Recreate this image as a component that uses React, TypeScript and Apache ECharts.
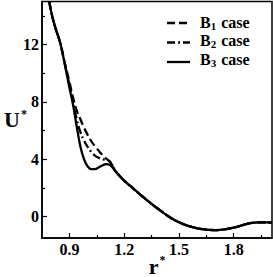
import React, { useEffect, useRef } from "react";
import * as echarts from "echarts";

const seriesNames = ["B1 case", "B2 case", "B3 case"];
const subs = ["1", "2", "3"];

const rB3 = [0.79, 0.8, 0.82, 0.85, 0.875, 0.9, 0.92, 0.94, 0.96, 0.98, 1.0, 1.02, 1.04, 1.06, 1.08, 1.1, 1.12, 1.15, 1.2, 1.25, 1.3, 1.35, 1.4, 1.45, 1.5, 1.55, 1.6, 1.65, 1.7, 1.75, 1.8, 1.85, 1.9, 1.95, 2.0, 2.01];
const uB3 = [15.0, 14.3, 13.3, 12.1, 10.6, 9.0, 7.8, 6.3, 4.9, 4.0, 3.5, 3.3, 3.3, 3.42, 3.56, 3.66, 3.62, 3.2, 2.5, 1.95, 1.4, 0.88, 0.4, -0.05, -0.4, -0.65, -0.82, -0.92, -0.95, -0.9, -0.78, -0.6, -0.45, -0.4, -0.42, -0.42];

const rB1 = [0.79, 0.8, 0.82, 0.85, 0.875, 0.9, 0.92, 0.94, 0.96, 0.98, 1.0, 1.02, 1.04, 1.06, 1.08, 1.1, 1.12, 1.14, 1.15, 1.2, 1.25, 1.3, 1.35, 1.4, 1.45, 1.5, 1.55, 1.6, 1.65, 1.7, 1.75, 1.8, 1.85, 1.9, 1.95, 2.0, 2.01];
const uB1 = [15.0, 14.3, 13.3, 12.1, 10.7, 9.4, 8.3, 7.4, 6.8, 6.2, 5.7, 5.25, 4.9, 4.6, 4.3, 4.05, 3.85, 3.45, 3.2, 2.5, 1.95, 1.4, 0.88, 0.4, -0.05, -0.4, -0.65, -0.82, -0.92, -0.95, -0.9, -0.78, -0.6, -0.45, -0.4, -0.42, -0.42];

const rB2 = rB1;
const uB2 = [15.0, 14.3, 13.3, 12.1, 10.65, 9.2, 8.0, 6.8, 5.9, 5.3, 4.85, 4.5, 4.25, 4.1, 4.0, 3.95, 3.85, 3.45, 3.2, 2.5, 1.95, 1.4, 0.88, 0.4, -0.05, -0.4, -0.65, -0.82, -0.92, -0.95, -0.9, -0.78, -0.6, -0.45, -0.4, -0.42, -0.42];

const xMajor = [0.9, 1.2, 1.5, 1.8];
const xMinor = [1.05, 1.35, 1.65, 1.95];
const yMajor = [0, 4, 8, 12];
const yMinor = [2, 6, 10, 14];

const FONT = "Liberation Serif";
const dashes: any[] = [[8, 4], [8, 3, 2, 3], "solid"];

export default function App() {
  const ref = useRef<HTMLDivElement>(null);
  useEffect(() => {
    const chart = echarts.init(ref.current!, null, { renderer: "svg" });
    const zip = (xs: number[], ys: number[]) => xs.map((x, i) => [x, ys[i]]);
    const datas = [zip(rB1, uB1), zip(rB2, uB2), zip(rB3, uB3)];
    const baseX = { type: "value", min: 0.75, max: 2.01, splitLine: { show: false } };
    const baseY = { type: "value", min: -1.5, max: 15, splitLine: { show: false } };
    const nameRich = {
      b: { fontFamily: FONT, fontWeight: "bold", fontSize: 22, color: "#000", lineHeight: 20 },
      s: { fontFamily: FONT, fontWeight: "bold", fontSize: 12, color: "#000", padding: [0, 0, 12, 1] },
    };
    chart.setOption({
      animation: false,
      textStyle: { fontFamily: FONT, fontWeight: "bold", color: "#000" },
      grid: {
        left: 42, right: 1, top: 1.5, bottom: 39, show: true,
        borderColor: "#000", borderWidth: 1.5, containLabel: false, outerBoundsMode: "none",
      },
      xAxis: [
        {
          ...baseX,
          name: "{b|r}{s|*}",
          nameLocation: "middle",
          nameGap: 16,
          nameMoveOverlap: false,
          nameTextStyle: { fontFamily: FONT, rich: nameRich },
          axisLine: { onZero: false, lineStyle: { color: "#000", width: 1.5 } },
          axisTick: { inside: true, length: 5, customValues: xMajor, lineStyle: { color: "#000", width: 1.2 } },
          axisLabel: { customValues: xMajor, fontFamily: FONT, fontWeight: "bold", fontSize: 16, color: "#000", margin: 3 },
        },
        {
          ...baseX,
          position: "bottom",
          axisLine: { show: false, onZero: false },
          axisTick: { inside: true, length: 3, customValues: xMinor, lineStyle: { color: "#000", width: 1.2 } },
          axisLabel: { show: false },
        },
      ],
      yAxis: [
        {
          ...baseY,
          name: "{b|U}{s|*}",
          nameLocation: "middle",
          nameRotate: 0,
          nameGap: 15,
          nameMoveOverlap: false,
          nameTextStyle: { fontFamily: FONT, rich: nameRich },
          axisLine: { onZero: false, lineStyle: { color: "#000", width: 1.5 } },
          axisTick: { inside: true, length: 5, customValues: yMajor, lineStyle: { color: "#000", width: 1.2 } },
          axisLabel: { customValues: yMajor, fontFamily: FONT, fontWeight: "bold", fontSize: 16, color: "#000", margin: 3 },
        },
        {
          ...baseY,
          position: "left",
          axisLine: { show: false, onZero: false },
          axisTick: { inside: true, length: 3, customValues: yMinor, lineStyle: { color: "#000", width: 1.2 } },
          axisLabel: { show: false },
        },
      ],
      legend: {
        orient: "vertical",
        left: 165,
        top: 13,
        padding: 0,
        itemWidth: 30,
        itemHeight: 10,
        itemGap: 0.5,
        icon: "rect",
        itemStyle: { opacity: 0 },
        data: seriesNames,
        formatter: (name: string) => {
          const i = seriesNames.indexOf(name);
          return "{b|B}{sub|" + subs[i] + "}{b| case}";
        },
        textStyle: {
          fontFamily: FONT,
          rich: {
            b: { fontFamily: FONT, fontWeight: "bold", fontSize: 16, color: "#000", lineHeight: 19 },
            sub: { fontFamily: FONT, fontWeight: "bold", fontSize: 11, color: "#000", lineHeight: 12, padding: [7, 1, 0, 0] },
          },
        },
      },
      graphic: dashes.map((d, i) => ({
        type: "line",
        shape: { x1: 167, y1: 23 + i * 19.5, x2: 190, y2: 23 + i * 19.5 },
        style: { stroke: "#000", lineWidth: 2.3, lineDash: d === "solid" ? null : d },
        z: 100,
      })),
      series: seriesNames.map((n, i) => ({
        name: n,
        type: "line",
        xAxisIndex: 0,
        yAxisIndex: 0,
        data: datas[i],
        smooth: 0.4,
        symbol: "none",
        z: 3 - i,
        lineStyle: { color: "#000", width: 2.3, type: dashes[i] },
        itemStyle: { color: "#000" },
        clip: true,
      })),
    });
    return () => chart.dispose();
  }, []);
  return <div ref={ref} style={{ position: "absolute", left: 0, top: 0, width: 273, height: 277 }} />;
}
